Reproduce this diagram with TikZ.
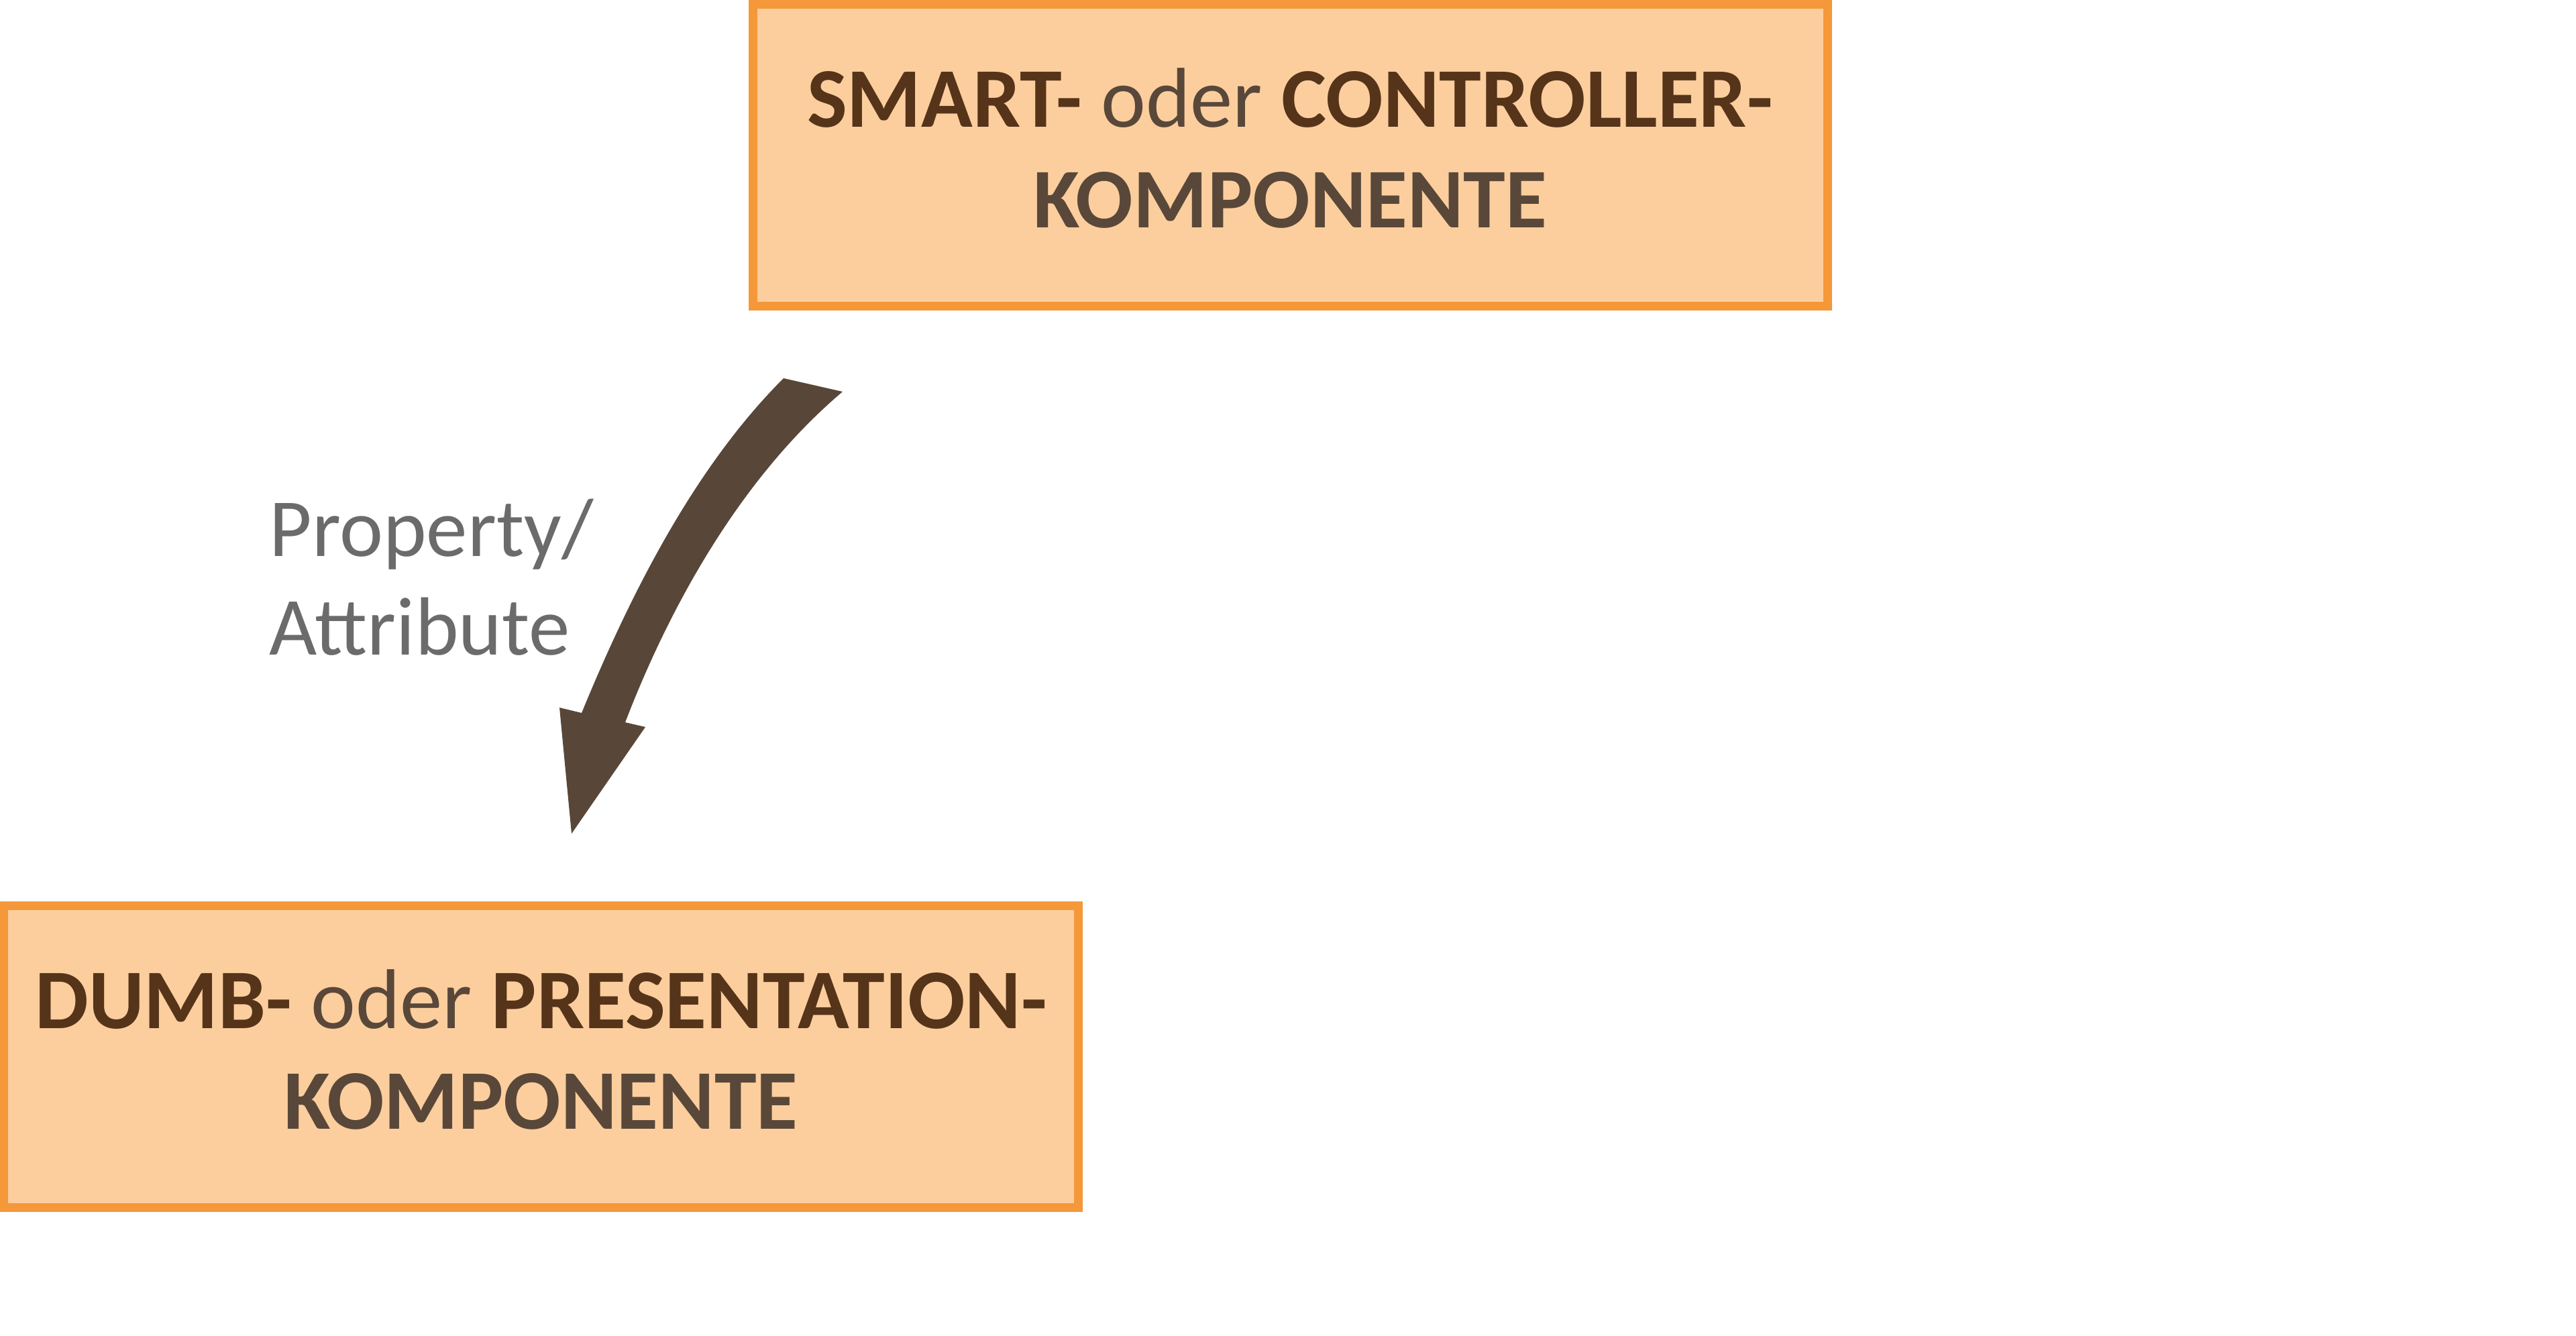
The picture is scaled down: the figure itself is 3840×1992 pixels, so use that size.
\documentclass[tikz,border=0pt]{standalone}
\usepackage{fontspec}
\setmainfont{Carlito}
\definecolor{boxfill}{HTML}{FCCE9E}
\definecolor{boxline}{HTML}{F4983A}
\definecolor{darkbrown}{HTML}{55341A}
\definecolor{graybrown}{HTML}{594839}
\definecolor{arrowbrown}{HTML}{584738}
\definecolor{labelgray}{HTML}{6B6B6B}
\tikzset{
  compbox/.style={draw=boxline, fill=boxfill, line width=0.13cm,
    minimum width=16.01cm, minimum height=4.5cm, inner sep=0pt,
    align=center, text height=3.2cm, text depth=1.05cm,
    font=\fontsize{36pt}{42.4pt}\selectfont},
  lbl/.style={align=left, text=labelgray, inner sep=0pt,
    font=\fontsize{35pt}{41.8pt}\selectfont},
  blockarrow/.style={fill=arrowbrown, draw=none}
}
\begin{document}
\begin{tikzpicture}[x=0.01cm,y=-0.01cm]
\useasboundingbox (0,0) rectangle (3840,1992);
\node[compbox] (smart) at (1923,231.5)
  {\textcolor{darkbrown}{\bfseries SMART-} \textcolor{graybrown}{oder} \textcolor{darkbrown}{\bfseries CONTROLLER-}\\
   \textcolor{graybrown}{\bfseries KOMPONENTE}};
\node[compbox] (dumb) at (806.5,1575.5)
  {\textcolor{darkbrown}{\bfseries DUMB-} \textcolor{graybrown}{oder} \textcolor{darkbrown}{\bfseries PRESENTATION-}\\
   \textcolor{graybrown}{\bfseries KOMPONENTE}};
\node[lbl, anchor=base west] (prop) at (401,976) {Property/\\Attribute};
\coordinate (tailL) at (1168,564);
\coordinate (tailR) at (1256,584);
\coordinate (shaftL) at (867,1063);
\coordinate (shaftR) at (932,1077);
\coordinate (barbL) at (834,1055);
\coordinate (barbR) at (962,1084);
\coordinate (tip) at (852,1243);
\fill[blockarrow] (tailL) .. controls (1038,694) and (943,878) .. (shaftL)
  -- (barbL) -- (tip) -- (barbR) -- (shaftR)
  .. controls (1000,900) and (1106,711) .. (tailR) -- cycle;
\end{tikzpicture}
\end{document}
